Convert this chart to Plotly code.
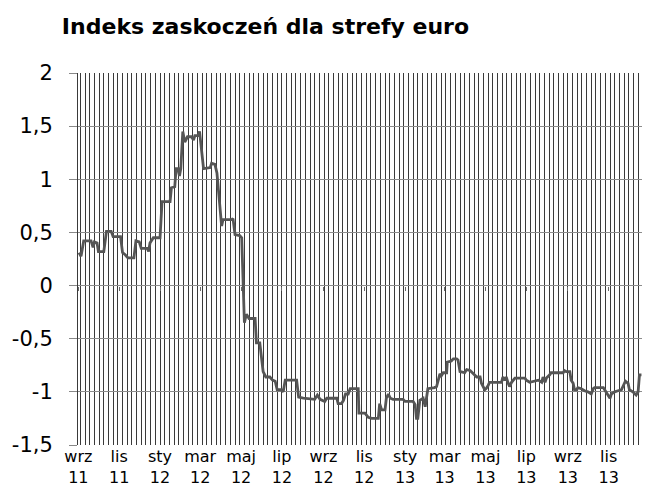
import plotly.graph_objects as go

# weekly-ish readings of the surprise index (date of each change, value)
dates = [
    "2011-09-02", "2011-09-05", "2011-09-09", "2011-09-20", "2011-09-23", "2011-09-25", "2011-09-29",
    "2011-10-01", "2011-10-09", "2011-10-13", "2011-10-20", "2011-10-23", "2011-11-03", "2011-11-06",
    "2011-11-10", "2011-11-14", "2011-11-23", "2011-11-26", "2011-12-01", "2011-12-04", "2011-12-13",
    "2011-12-15", "2011-12-17", "2011-12-22", "2012-01-01", "2012-01-04", "2012-01-16", "2012-01-18",
    "2012-01-23", "2012-01-25", "2012-01-28", "2012-01-30", "2012-02-01", "2012-02-04", "2012-02-07",
    "2012-02-11", "2012-02-17", "2012-02-20", "2012-02-22", "2012-02-27", "2012-02-29", "2012-03-02",
    "2012-03-06", "2012-03-16", "2012-03-18", "2012-03-23", "2012-03-26", "2012-04-02", "2012-04-04",
    "2012-04-17", "2012-04-19", "2012-04-22", "2012-04-29", "2012-05-02", "2012-05-06", "2012-05-09",
    "2012-05-13", "2012-05-22", "2012-05-24", "2012-05-29", "2012-06-03", "2012-06-07", "2012-06-13",
    "2012-06-17", "2012-06-21", "2012-06-24", "2012-06-30", "2012-07-03", "2012-07-06", "2012-07-23",
    "2012-07-26", "2012-08-02", "2012-08-19", "2012-08-23", "2012-08-27", "2012-09-03", "2012-09-06",
    "2012-09-21", "2012-09-23", "2012-09-28", "2012-10-01", "2012-10-04", "2012-10-08", "2012-10-11",
    "2012-10-23", "2012-10-24", "2012-11-02", "2012-11-07", "2012-11-12", "2012-11-22", "2012-11-24",
    "2012-11-27", "2012-12-02", "2012-12-04", "2012-12-07", "2012-12-10", "2012-12-14", "2012-12-29",
    "2013-01-01", "2013-01-13", "2013-01-16", "2013-01-18", "2013-01-20", "2013-01-23", "2013-01-28",
    "2013-01-31", "2013-02-04", "2013-02-14", "2013-02-17", "2013-02-22", "2013-02-24", "2013-02-27",
    "2013-03-04", "2013-03-05", "2013-03-11", "2013-03-14", "2013-03-19", "2013-03-21", "2013-03-24",
    "2013-03-31", "2013-04-03", "2013-04-08", "2013-04-13", "2013-04-18", "2013-04-23", "2013-04-25",
    "2013-04-30", "2013-05-02", "2013-05-05", "2013-05-07", "2013-05-25", "2013-05-27", "2013-05-30",
    "2013-06-01", "2013-06-04", "2013-06-06", "2013-06-09", "2013-06-14", "2013-06-29", "2013-07-01",
    "2013-07-06", "2013-07-19", "2013-07-24", "2013-07-26", "2013-07-29", "2013-07-31", "2013-08-05",
    "2013-08-07", "2013-08-25", "2013-08-27", "2013-08-30", "2013-09-04", "2013-09-06", "2013-09-09",
    "2013-09-11", "2013-09-14", "2013-09-16", "2013-09-21", "2013-09-26", "2013-10-01", "2013-10-06",
    "2013-10-09", "2013-10-11", "2013-10-24", "2013-10-26", "2013-10-31", "2013-11-03", "2013-11-05",
    "2013-11-10", "2013-11-15", "2013-11-20", "2013-11-23", "2013-11-26", "2013-11-30", "2013-12-02",
    "2013-12-07", "2013-12-12", "2013-12-15", "2013-12-17", "2013-12-20",
]

index_values = [
    0.31, 0.275, 0.42, 0.42, 0.36, 0.41, 0.40,
    0.32, 0.32, 0.51, 0.51, 0.46, 0.46, 0.31,
    0.29, 0.26, 0.26, 0.42, 0.41, 0.35, 0.35,
    0.32, 0.40, 0.45, 0.45, 0.79, 0.79, 0.92,
    0.93, 1.10, 1.10, 1.03, 1.10, 1.45, 1.35,
    1.40, 1.40, 1.37, 1.41, 1.41, 1.45, 1.31,
    1.10, 1.11, 1.15, 1.14, 1.06, 0.56, 0.62,
    0.62, 0.63, 0.48, 0.47, 0.45, -0.35, -0.27,
    -0.31, -0.31, -0.54, -0.54, -0.81, -0.86, -0.86,
    -0.89, -0.90, -0.98, -0.98, -1.00, -0.89, -0.89,
    -1.05, -1.06, -1.07, -1.03, -1.07, -1.09, -1.06,
    -1.06, -1.11, -1.11, -1.08, -1.02, -1.02, -0.97,
    -0.97, -1.20, -1.20, -1.24, -1.25, -1.25, -1.11,
    -1.17, -1.17, -1.06, -1.02, -1.06, -1.07, -1.07,
    -1.09, -1.09, -1.12, -1.25, -1.25, -1.08, -1.06,
    -1.14, -0.97, -0.96, -0.95, -0.83, -0.85, -0.82,
    -0.82, -0.72, -0.71, -0.69, -0.69, -0.70, -0.81,
    -0.82, -0.79, -0.80, -0.83, -0.86, -0.86, -0.92,
    -0.98, -0.97, -0.94, -0.91, -0.91, -0.86, -0.89,
    -0.86, -0.92, -0.95, -0.91, -0.87, -0.87, -0.89,
    -0.91, -0.89, -0.91, -0.86, -0.91, -0.87, -0.84,
    -0.82, -0.82, -0.80, -0.81, -0.81, -0.89, -0.92,
    -0.98, -0.98, -0.96, -0.97, -0.99, -1.00, -1.02,
    -0.97, -0.96, -0.96, -0.98, -1.03, -1.06, -1.02,
    -1.00, -0.99, -0.98, -0.94, -0.90, -0.92, -0.98,
    -1.00, -1.03, -1.00, -0.84, -0.84,
]

# x axis labels every two months
tick_dates = ["2011-09-01", "2011-11-01", "2012-01-01", "2012-03-01", "2012-05-01", "2012-07-01", "2012-09-01",
              "2012-11-01", "2013-01-01", "2013-03-01", "2013-05-01", "2013-07-01", "2013-09-01", "2013-11-01"]
tick_months = ["wrz", "lis", "sty", "mar", "maj", "lip", "wrz", "lis", "sty", "mar", "maj", "lip", "wrz", "lis"]
tick_years = ["11", "11", "12", "12", "12", "12", "12", "12", "13", "13", "13", "13", "13", "13"]

y_ticks = [-1.5, -1, -0.5, 0, 0.5, 1, 1.5, 2]
y_labels = ["-1,5", "-1", "-0,5", "0", "0,5", "1", "1,5", "2"]

x_range = ["2011-08-31 12:00", "2013-12-20 19:00"]
y_range = [-1.5, 2]

fig = go.Figure()
fig.add_trace(go.Scatter(x=dates, y=index_values, mode="lines",
                         line=dict(color="#555555", width=2.8),
                         showlegend=False))
# invisible copy on the second x axis so its tick marks (on the zero line) get drawn
fig.add_trace(go.Scatter(x=dates, y=index_values, mode="lines", xaxis="x2",
                         line=dict(color="rgba(0,0,0,0)", width=0),
                         showlegend=False, hoverinfo="skip"))

fig.update_layout(
    width=665, height=491,
    margin=dict(l=70, r=31, t=65, b=54),
    paper_bgcolor="white", plot_bgcolor="white",
    font=dict(family="DejaVu Sans", color="black"),
    title=dict(text="Indeks zaskoczeń dla strefy euro",
               font=dict(family="DejaVu Sans", size=22, weight="bold", color="black"),
               x=0.081, xanchor="left", xref="container",
               y=0.962, yanchor="middle"),
    xaxis=dict(
        type="date",
        range=x_range,
        tickmode="array",
        tickvals=tick_dates,
        ticktext=[m + "<br>" + y for m, y in zip(tick_months, tick_years)],
        tickfont=dict(size=16, color="black"),
        ticks="", showgrid=False, showline=False, zeroline=False,
        automargin=False,
        # weekly vertical gridlines
        minor=dict(tickmode="linear", tick0="2011-09-04", dtick=7 * 86400000,
                   showgrid=True, gridcolor="#3a3a3a", gridwidth=1, ticks=""),
    ),
    # axis crossing at zero, only small tick marks, no labels
    xaxis2=dict(type="date", range=x_range, overlaying="x", anchor="free",
                position=(0 - y_range[0]) / (y_range[1] - y_range[0]),
                tickmode="array", tickvals=tick_dates, showticklabels=False,
                ticks="outside", ticklen=4, tickcolor="#6a6a6a", tickwidth=1,
                showgrid=False, showline=False, zeroline=False, automargin=False),
    yaxis=dict(
        range=y_range,
        tickmode="array", tickvals=y_ticks, ticktext=y_labels,
        tickfont=dict(size=21, color="black"),
        ticks="outside", ticklen=8, tickcolor="#888888",
        ticklabelstandoff=12,
        showgrid=True, gridcolor="#8c8c8c", gridwidth=1,
        zeroline=False, automargin=False,
        showline=True, linecolor="#3a3a3a", linewidth=1,
    ),
)

fig.write_html("out.html")
